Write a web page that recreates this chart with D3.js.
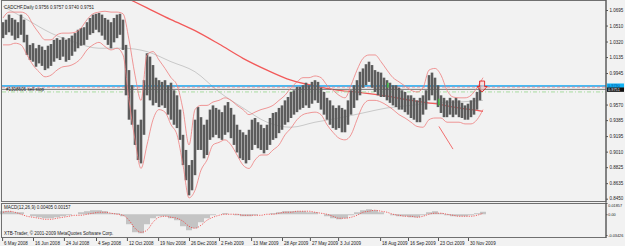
<!DOCTYPE html>
<html>
<head>
<meta charset="utf-8">
<script src="https://cdn.jsdelivr.net/npm/d3@7"></script>
<style>
body { margin: 0; background: #f2f2f2; }
svg { display: block; }
text { font-family: "Liberation Sans", Arial, sans-serif; font-size: 5px; fill: #1a1a1a; }
text.small { font-size: 4.3px; }
text.fit { font-size: 3.8px; }
</style>
</head>
<body>
<div id="chart"></div>
<script>
// daily bars, one entry every 3rd bar (high / low)
var highs = [1.055,1.058,1.064,1.060,1.058,1.055,1.064,1.058,1.040,1.028,1.030,1.024,1.028,1.026,1.022,1.027,1.029,1.034,1.036,1.034,
  1.037,1.034,1.036,1.039,1.042,1.046,1.048,1.049,1.055,1.060,1.064,1.065,1.066,1.064,1.060,1.058,1.055,1.060,1.064,1.065,
  1.058,1.028,0.998,0.980,0.951,0.933,0.939,0.986,1.018,1.014,1.004,0.989,0.986,0.984,0.986,0.980,0.983,0.974,0.968,0.951,
  0.921,0.903,0.885,0.891,0.939,0.954,0.942,0.933,0.939,0.951,0.956,0.953,0.951,0.948,0.956,0.960,0.953,0.945,0.933,0.927,
  0.924,0.921,0.927,0.939,0.941,0.936,0.933,0.929,0.933,0.941,0.947,0.948,0.953,0.956,0.962,0.966,0.972,0.974,0.978,0.978,
  0.980,0.983,0.980,0.984,0.986,0.984,0.977,0.972,0.965,0.962,0.956,0.953,0.956,0.953,0.951,0.962,0.974,0.980,0.986,0.996,
  1.000,1.005,1.008,1.004,0.998,0.996,0.995,0.989,0.986,0.983,0.980,0.980,0.977,0.974,0.972,0.968,0.968,0.965,0.962,0.965,
  0.968,0.974,0.992,0.995,0.989,0.980,0.968,0.965,0.962,0.965,0.962,0.965,0.962,0.959,0.956,0.958,0.962,0.965,0.972,0.980,
  0.9757];
var lows = [1.036,1.040,1.043,1.039,1.034,1.036,1.040,1.031,1.016,1.010,1.008,1.002,1.006,1.003,0.998,1.000,1.003,1.008,1.012,1.010,
  1.014,1.008,1.010,1.015,1.020,1.024,1.027,1.028,1.034,1.040,1.042,1.046,1.043,1.039,1.034,1.028,1.024,1.031,1.036,1.040,
  1.022,0.968,0.939,0.933,0.909,0.891,0.887,0.921,0.968,0.962,0.956,0.959,0.954,0.956,0.953,0.945,0.939,0.933,0.929,0.915,
  0.885,0.867,0.849,0.855,0.873,0.903,0.903,0.893,0.897,0.915,0.918,0.921,0.917,0.915,0.921,0.924,0.917,0.909,0.900,0.893,
  0.891,0.887,0.891,0.903,0.909,0.905,0.903,0.899,0.903,0.909,0.915,0.917,0.923,0.927,0.933,0.936,0.941,0.945,0.948,0.951,
  0.953,0.956,0.953,0.958,0.962,0.959,0.951,0.945,0.939,0.933,0.929,0.927,0.929,0.924,0.924,0.933,0.945,0.953,0.962,0.968,
  0.977,0.980,0.984,0.977,0.972,0.968,0.966,0.966,0.962,0.959,0.956,0.954,0.951,0.951,0.948,0.945,0.941,0.939,0.936,0.936,
  0.945,0.951,0.962,0.968,0.962,0.954,0.947,0.942,0.942,0.945,0.942,0.945,0.942,0.941,0.939,0.939,0.942,0.945,0.951,0.962,
  0.9740];

// bollinger bands, one entry every 6th bar
var bandUpper = [1.060,1.067,1.067,1.067,1.064,1.052,1.042,1.034,1.034,1.040,1.042,1.042,1.043,1.048,1.058,1.065,1.067,1.068,1.067,1.067,
  1.065,1.034,0.992,0.962,1.016,1.020,1.010,1.000,0.989,0.980,0.951,0.909,0.951,0.956,0.956,0.960,0.962,0.965,0.962,0.956,
  0.951,0.945,0.948,0.951,0.953,0.956,0.962,0.968,0.977,0.984,0.989,0.989,0.991,0.989,0.980,0.974,0.968,0.965,0.980,0.998,
  1.012,1.016,1.016,1.008,0.998,0.989,0.984,0.979,0.974,0.972,0.977,0.998,1.000,0.992,0.974,0.966,0.965,0.965,0.968,0.977,
  0.989];
var bandLower = [1.028,1.028,1.030,1.028,1.016,1.004,0.996,0.990,0.992,0.998,1.002,1.003,1.006,1.012,1.022,1.028,1.031,1.026,1.022,1.024,
  1.016,0.962,0.915,0.881,0.909,0.939,0.951,0.948,0.933,0.921,0.885,0.846,0.855,0.879,0.891,0.909,0.912,0.915,0.909,0.897,
  0.885,0.881,0.891,0.897,0.897,0.903,0.909,0.921,0.929,0.939,0.945,0.947,0.948,0.945,0.933,0.924,0.917,0.915,0.921,0.939,
  0.956,0.962,0.962,0.960,0.956,0.951,0.945,0.941,0.936,0.931,0.930,0.939,0.941,0.941,0.936,0.936,0.936,0.934,0.934,0.939,
  0.951];

// moving averages, one entry every 24th bar
var maGrey = [1.074,1.058,1.042,1.031,1.024,1.024,1.020,1.008,0.996,0.972,0.953,0.936,0.930,0.936,0.941,0.947,0.953,0.956,0.959,0.960,0.962];
var maRedStart = 32;
var maRed = [1.100,1.086,1.072,1.058,1.045,1.029,1.012,0.998,0.986,0.979,0.974,0.971,0.967,0.962,0.958,0.953,0.949];

// MACD main (histogram) and signal, one entry every 6th bar
var macdMain = [0.0050,0.0050,0.0033,0.0033,0,-0.0033,-0.0050,-0.0066,-0.0066,-0.0050,-0.0033,-0.0017,0,0.0033,0.0050,0.0066,0.0066,0.0050,0.0017,0.0017,
  -0.0033,-0.0165,-0.0297,-0.0314,-0.0165,-0.0066,-0.0033,-0.0033,-0.0066,-0.0099,-0.0198,-0.0264,-0.0231,-0.0132,-0.0066,-0.0017,0,0.0017,0,-0.0017,
  -0.0033,-0.0033,-0.0017,0,0,0.0017,0.0033,0.0050,0.0050,0.0050,0.0050,0.0033,0.0033,0,-0.0033,-0.0066,-0.0083,-0.0066,-0.0017,0.0033,
  0.0066,0.0083,0.0066,0.0033,0,-0.0017,-0.0033,-0.0033,-0.0050,-0.0050,-0.0017,0.0033,0.0050,0.0017,-0.0017,-0.0033,-0.0033,-0.0033,-0.0017,0.0017,
  0.00405];
var macdSignal = [0.0033,0.0050,0.0033,0,-0.0033,-0.0050,-0.0066,-0.0083,-0.0083,-0.0066,-0.0050,-0.0033,-0.0017,-0.0017,0,0.0017,0.0033,0.0033,0.0017,0,
  -0.0017,-0.0099,-0.0231,-0.0297,-0.0264,-0.0132,-0.0050,-0.0033,-0.0050,-0.0066,-0.0116,-0.0198,-0.0231,-0.0182,-0.0099,-0.0050,-0.0017,0,0,0,
  -0.0017,-0.0017,-0.0017,-0.0017,0,0,0.0017,0.0033,0.0033,0.0050,0.0050,0.0050,0.0033,0.0017,0,-0.0033,-0.0066,-0.0066,-0.0050,-0.0017,
  0.0033,0.0050,0.0066,0.0050,0.0033,0,-0.0017,-0.0033,-0.0033,-0.0050,-0.0033,0,0.0017,0.0017,0,-0.0017,-0.0033,-0.0033,-0.0033,-0.0017,
  0.00157];

// axis labels
var priceTicks = [1.0695,1.0510,1.0320,1.0135,0.9945,0.9570,0.9385,0.9195,0.9010,0.8825,0.8635,0.8450];
var dateLabels = ["6 May 2008","16 Jun 2008","24 Jul 2008","4 Sep 2008","12 Oct 2008","19 Nov 2008","26 Dec 2008","2 Feb 2009",
  "13 Mar 2009","28 Apr 2009","27 May 2009","3 Jul 2009","18 Aug 2009","16 Sep 2009","23 Oct 2009","30 Nov 2009"];
var dateBars = [-0.3,10,20.3,31,41.3,51.7,62,72,82.7,93,102.3,111.7,125.7,135,145,155];
var macdTicks = [0.01857,0,-0.03426];

// objects on the chart
var lineLevel = 0.9790, dashLevel = 0.9778, bid = 0.9751, sellStop = 0.9720;
var sellArrow = {bar: 159.7, price: 0.9850};
var greenMarks = [{bar: 128.3, hi: 0.983, lo: 0.977}, {bar: 145.3, hi: 0.964, lo: 0.956}];
var trendLine = [{bar: 145.3, price: 0.931}, {bar: 150, price: 0.904}];

var width = 625, height = 246;
var plotRight = 606;

var svg = d3.select("#chart").append("svg")
  .attr("width", width)
  .attr("height", height);

svg.append("rect").attr("width", width).attr("height", height).attr("fill", "#f2f2f2");

var x = d3.scaleLinear().domain([0, 160]).range([3, 483]);
var y = d3.scaleLinear().domain([0.8450, 1.0695]).range([198.7, 10]);
var ym = d3.scaleLinear().domain([-0.03426, 0.01857]).range([235, 203]);

svg.append("clipPath").attr("id", "mainclip")
  .append("rect").attr("x", 2).attr("y", 1).attr("width", plotRight - 2).attr("height", 200);

var main = svg.append("g").attr("clip-path", "url(#mainclip)");

// moving averages
main.append("path")
  .datum(maGrey)
  .attr("fill", "none")
  .attr("stroke", "#c9c9c9")
  .attr("stroke-width", 1)
  .attr("d", d3.line().x(function (d, i) { return x(i * 8); }).y(function (d) { return y(d); }).curve(d3.curveMonotoneX));

main.append("path")
  .datum(maRed)
  .attr("fill", "none")
  .attr("stroke", "#f25a5a")
  .attr("stroke-width", 1.3)
  .attr("d", d3.line().x(function (d, i) { return x(maRedStart + i * 8); }).y(function (d) { return y(d); }).curve(d3.curveMonotoneX));

// horizontal levels
main.append("line").attr("x1", 2).attr("x2", plotRight).attr("y1", y(lineLevel)).attr("y2", y(lineLevel))
  .attr("stroke", "#12a6f0").attr("stroke-width", 1.6);
main.append("line").attr("x1", 2).attr("x2", plotRight).attr("y1", y(dashLevel)).attr("y2", y(dashLevel))
  .attr("stroke", "#f07a7a").attr("stroke-width", 0.8).attr("stroke-dasharray", "3,2");
main.append("line").attr("x1", 2).attr("x2", plotRight).attr("y1", y(bid)).attr("y2", y(bid))
  .attr("stroke", "#6a6a6a").attr("stroke-width", 0.9);
main.append("line").attr("x1", 2).attr("x2", plotRight).attr("y1", y(sellStop)).attr("y2", y(sellStop))
  .attr("stroke", "#a8dca0").attr("stroke-width", 1).attr("stroke-dasharray", "4,2,1,2");

// price bars
main.append("g").selectAll("rect")
  .data(highs)
  .enter().append("rect")
  .attr("x", function (d, i) { return x(i) - 1.3; })
  .attr("width", 2.6)
  .attr("y", function (d) { return y(d); })
  .attr("height", function (d, i) { return Math.max(1, y(lows[i]) - y(d)); })
  .attr("fill", "#5c5c5c");

// bands
var bandLine = d3.line().x(function (d, i) { return x(i * 2); }).y(function (d) { return y(d); }).curve(d3.curveMonotoneX);
[bandUpper, bandLower].forEach(function (b) {
  main.append("path").datum(b)
    .attr("fill", "none").attr("stroke", "#ee7d7d").attr("stroke-width", 0.8)
    .attr("d", bandLine);
});

// trade marks
greenMarks.forEach(function (m) {
  main.append("line").attr("x1", x(m.bar)).attr("x2", x(m.bar)).attr("y1", y(m.hi)).attr("y2", y(m.lo))
    .attr("stroke", "#3ccf3c").attr("stroke-width", 1.2);
});
main.append("line")
  .attr("x1", x(trendLine[0].bar)).attr("y1", y(trendLine[0].price))
  .attr("x2", x(trendLine[1].bar)).attr("y2", y(trendLine[1].price))
  .attr("stroke", "#f06060").attr("stroke-width", 0.9);

var ax = x(sellArrow.bar), ay = y(sellArrow.price);
main.append("path")
  .attr("d", "M" + (ax - 2.5) + "," + ay + "h5v5.5h2.5l-5,5.5l-5,-5.5h2.5z")
  .attr("fill", "#f6d0d0").attr("fill-opacity", 0.6)
  .attr("stroke", "#e02020").attr("stroke-width", 0.9);

main.append("text").attr("x", 6).attr("y", y(sellStop) - 0.5).text("#1308606 sell stop");

// MACD window
var macdG = svg.append("g");
macdG.selectAll("rect")
  .data(macdMain)
  .enter().append("rect")
  .attr("x", function (d, i) { return x(i * 2) - 3; })
  .attr("width", 6)
  .attr("y", function (d) { return Math.min(ym(0), ym(d)); })
  .attr("height", function (d) { return Math.abs(ym(d) - ym(0)); })
  .attr("fill", "#c4c4c4");

macdG.append("path").datum(macdSignal)
  .attr("fill", "none").attr("stroke", "#ef4040").attr("stroke-width", 0.8)
  .attr("stroke-dasharray", "1.2,1.2")
  .attr("d", d3.line().x(function (d, i) { return x(i * 2); }).y(function (d) { return ym(d); }).curve(d3.curveMonotoneX));

// frames
svg.append("rect").attr("x", 1.5).attr("y", 0.5).attr("width", plotRight - 1.5).attr("height", 201)
  .attr("fill", "none").attr("stroke", "#707070").attr("stroke-width", 1);
svg.append("rect").attr("x", 1.5).attr("y", 203.5).attr("width", plotRight - 1.5).attr("height", 34)
  .attr("fill", "none").attr("stroke", "#707070").attr("stroke-width", 1);

// price axis
var yAxis = d3.axisRight(y).tickValues(priceTicks).tickSize(2).tickPadding(1.5)
  .tickFormat(function (d) { return d.toFixed(4); });
var gy = svg.append("g").attr("transform", "translate(" + plotRight + ",0)").call(yAxis);
gy.select(".domain").remove();
gy.selectAll("line").attr("stroke", "#555");
gy.selectAll("text").attr("font-size", null).attr("font-family", null);
gy.selectAll(".tick").filter(function (d) { return d === 0.8450; }).select("text").attr("dy", "0.1em");

// price markers on the axis
svg.append("rect").attr("x", plotRight + 1).attr("y", y(lineLevel) - 2.6).attr("width", 17).attr("height", 4.4).attr("fill", "#12b4f5");
svg.append("text").attr("class", "small").attr("x", plotRight + 2).attr("y", y(lineLevel) + 1.1).style("fill", "#0b4f9e").text(lineLevel.toFixed(4));
svg.append("rect").attr("x", plotRight + 1).attr("y", y(bid) - 1.9).attr("width", 17).attr("height", 4.4).attr("fill", "#111");
svg.append("text").attr("class", "small").attr("x", plotRight + 2).attr("y", y(bid) + 1.6).style("fill", "#fff").text(bid.toFixed(4));

// MACD axis
var gm = svg.append("g").attr("transform", "translate(" + plotRight + ",0)")
  .call(d3.axisRight(ym).tickValues(macdTicks).tickSize(1.5).tickPadding(0.8)
    .tickFormat(function (d) { return d === 0 ? "0.00" : d.toFixed(5); }));
gm.select(".domain").remove();
gm.selectAll("line").attr("stroke", "#555");
gm.selectAll("text").attr("font-size", null).attr("font-family", null).attr("class", "fit");
gm.selectAll(".tick").filter(function (d) { return d === 0.01857; }).select("text").attr("dy", "0.8em");

svg.append("line").attr("x1", plotRight).attr("x2", plotRight).attr("y1", 0).attr("y2", 238)
  .attr("stroke", "#555").attr("stroke-width", 1);

// date axis
var gx = svg.append("g").attr("transform", "translate(0,238)")
  .call(d3.axisBottom(x).tickValues(dateBars).tickSize(3).tickPadding(0)
    .tickFormat(function (d, i) { return dateLabels[i]; }));
gx.select(".domain").remove();
gx.selectAll("line").attr("stroke", "#555");
gx.selectAll("text").attr("font-size", null).attr("font-family", null)
  .attr("text-anchor", "start").attr("dx", 1.5).attr("dy", 0).attr("y", 6.5);

// titles
var title = svg.append("text").attr("x", 4).attr("y", 9).text("CADCHF,Daily  0.9756 0.9757 0.9740 0.9751");
svg.append("text").attr("x", 4).attr("y", 208.5).text("MACD(12,26,9) 0.00405 0.00157");
svg.append("text").attr("x", 4).attr("y", 234.5).text("XTB-Trader, \u00a9 2001-2009 MetaQuotes Software Corp.");

// the terminal font is a bit narrower than the installed ones: squeeze the texts the same way
var squeeze = 90 / title.node().getComputedTextLength();
svg.selectAll("text").filter(function () { return !d3.select(this).classed("fit"); }).each(function () {
  var len = this.getComputedTextLength() * squeeze;
  d3.select(this).attr("textLength", len).attr("lengthAdjust", "spacingAndGlyphs");
});
</script>
</body>
</html>
